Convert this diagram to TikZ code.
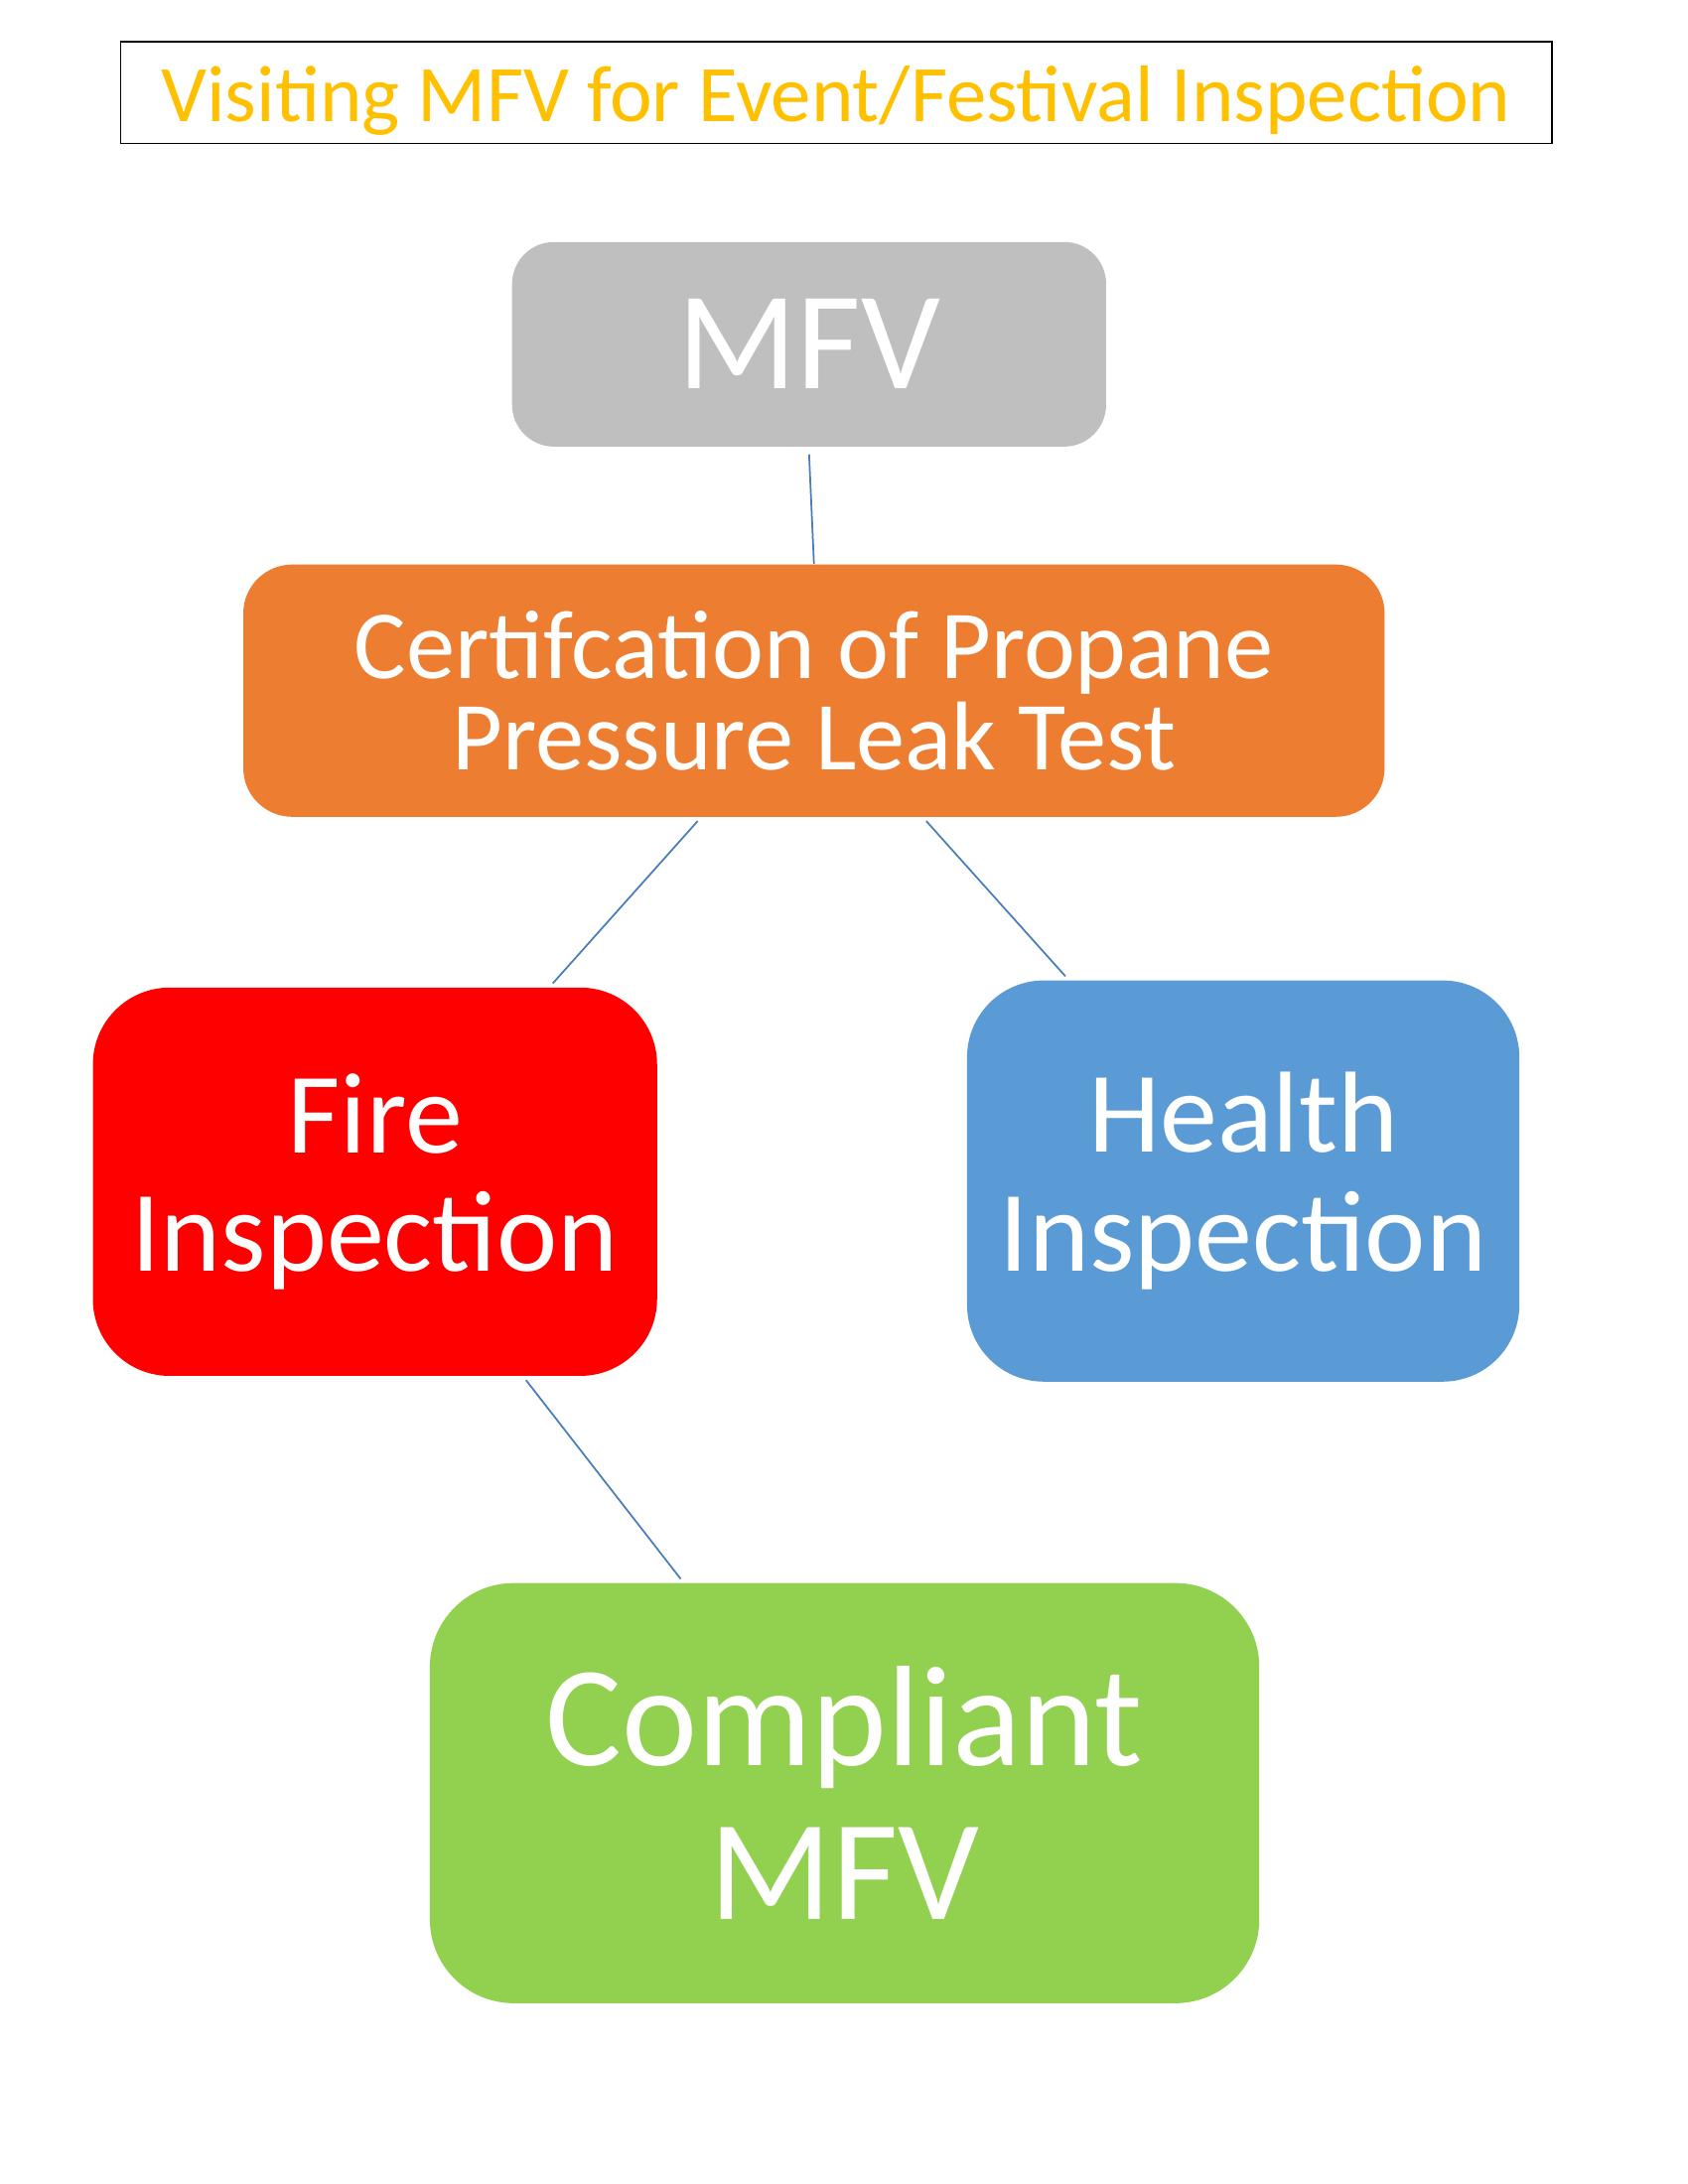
\documentclass[tikz,border=0pt]{standalone}
\usepackage{fontspec}
\setmainfont{Carlito}
\definecolor{titleorange}{HTML}{FFC000}
\definecolor{mfvgray}{HTML}{BFBFBF}
\definecolor{certorange}{HTML}{ED7D31}
\definecolor{healthblue}{HTML}{5B9BD5}
\definecolor{okgreen}{HTML}{92D050}
\definecolor{linkblue}{HTML}{4A7EBB}
\tikzset{
  box/.style={rounded corners=#1, text=white, align=center, inner sep=0pt},
  link/.style={linkblue, line width=0.5pt}
}
\begin{document}
\begin{tikzpicture}[x=0.014015cm, y=-0.014015cm]
        \useasboundingbox[fill=white] (0,0) rectangle (1213,1570);
        % title
        \node[draw, thin, minimum width=1028\pgflinewidth, inner sep=0pt] (title) at (601,66.5)
          [minimum width=14.41cm, minimum height=1.02cm] {};
        \node[text=titleorange, font=\fontsize{23}{27}\selectfont] at (601,72) {Visiting MFV for Event/Festival Inspection};

        % boxes
        \node[box=12pt, fill=mfvgray, minimum width=5.98cm, minimum height=2.06cm,
          font=\fontsize{40}{44}\selectfont] (mfv) at (581.5,247.5) {MFV};
        \node[box=14pt, fill=certorange, minimum width=11.49cm, minimum height=2.54cm,
          font=\fontsize{28}{26}\selectfont] (cert) at (585,496.5) {Certifcation of Propane\\Pressure Leak Test};
        \node[box=22pt, fill=red, minimum width=5.68cm, minimum height=3.91cm,
          font=\fontsize{33}{34}\selectfont] (fire) at (269.5,849.5) {Fire\\Inspection};
        \node[box=22pt, fill=healthblue, minimum width=5.56cm, minimum height=4.04cm,
          font=\fontsize{33}{34}\selectfont] (health) at (893.5,849) {Health\\Inspection};
        \node[box=24pt, fill=okgreen, minimum width=8.35cm, minimum height=4.23cm,
          font=\fontsize{41}{44}\selectfont] (ok) at (607,1289) {Compliant\\MFV};

        % links
        \draw[link] ([yshift=-2pt]mfv.south) -- (cert.north);
        \draw[link] ([xshift=-1.17cm, yshift=-1pt]cert.south) -- ([xshift=1.79cm, yshift=1pt]fire.north);
        \draw[link] ([xshift=1.13cm, yshift=-1pt]cert.south) -- ([xshift=-1.79cm, yshift=1pt]health.north);
        \draw[link] ([xshift=1.52cm, yshift=-1pt]fire.south) -- ([xshift=-1.65cm, yshift=1pt]ok.north);
    \end{tikzpicture}
\end{document}
